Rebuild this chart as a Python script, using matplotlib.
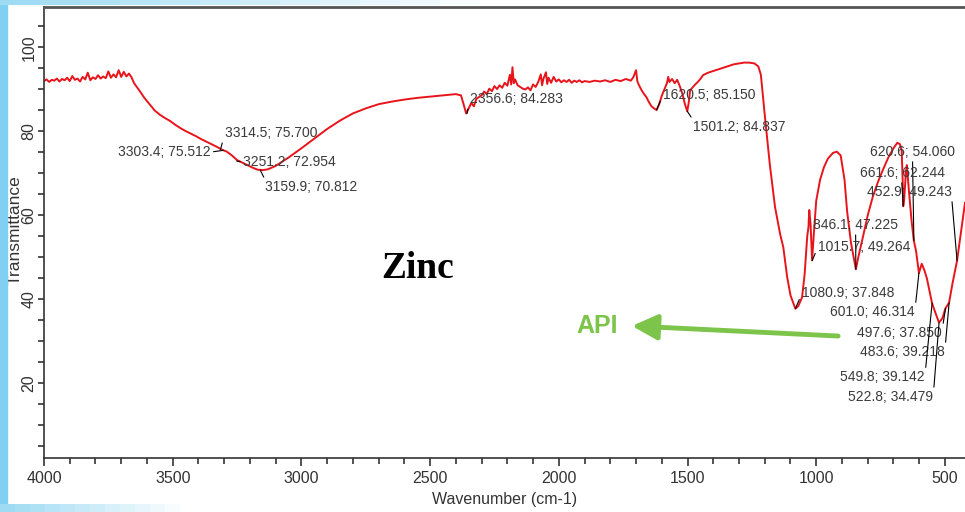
import matplotlib
matplotlib.use('Agg')
import matplotlib.pyplot as plt
from matplotlib.patches import Rectangle
from matplotlib.ticker import MultipleLocator

plt.rcParams['font.family'] = ['Liberation Sans', 'DejaVu Sans']

# FTIR spectrum
wavenumber = [
    4000, 3990, 3980, 3970, 3960, 3950, 3940, 3930, 3920, 3910, 3900, 3890, 3880, 3870,
    3860, 3850, 3840, 3830, 3820, 3810, 3800, 3790, 3780, 3770, 3760, 3750, 3740, 3730,
    3720, 3710, 3700, 3690, 3680, 3670, 3660,
    3650, 3630, 3610, 3590, 3570, 3550, 3530, 3510, 3490, 3470, 3450, 3430, 3410, 3390,
    3370, 3350, 3330, 3310, 3290, 3270, 3250, 3230, 3210, 3190, 3170, 3150, 3130,
    3100, 3050, 3000, 2950, 2900, 2850, 2800, 2750, 2700, 2650, 2600, 2550, 2500, 2450,
    2400, 2380, 2370, 2360, 2350, 2340, 2330, 2320,
    2300, 2290, 2280, 2270, 2260, 2250, 2240, 2230, 2220, 2210, 2200, 2190, 2185, 2180,
    2175, 2170, 2160, 2150, 2140, 2130, 2120, 2110, 2100, 2090, 2080, 2070, 2065, 2060,
    2050, 2045, 2040, 2030, 2020, 2010, 2000, 1990, 1980, 1970, 1960, 1950, 1940, 1930,
    1920, 1910, 1900, 1880, 1860, 1840, 1820, 1800, 1780, 1760, 1740, 1720, 1710, 1700,
    1695, 1690, 1680, 1670, 1660, 1650, 1640, 1630, 1620, 1610, 1600, 1590, 1580, 1575,
    1570, 1560, 1550, 1540, 1530, 1520, 1510, 1501, 1495, 1490, 1480, 1470, 1460, 1450,
    1440, 1420, 1400, 1380, 1360, 1340, 1320, 1300, 1280, 1260, 1240, 1225, 1215, 1200,
    1180, 1160, 1140, 1128, 1113, 1100, 1081, 1070, 1055, 1045, 1035, 1030, 1027, 1022,
    1016, 1010, 1000, 985, 970, 955, 935, 920, 905, 890, 880, 865, 846, 835, 820, 800,
    780, 760, 740, 720, 700, 685, 675, 668, 664, 662, 658, 652, 648, 640, 630, 621,
    612, 601, 590, 580, 570, 560, 550, 535, 523, 510, 498, 484, 470, 453, 440, 422,
]
transmittance = [
    92.0, 92.4, 91.8, 92.3, 92.1, 92.6, 91.9, 92.5, 92.2, 92.8, 92.0, 93.2, 92.3, 92.6,
    91.9, 93.0, 92.4, 94.0, 92.2, 92.9, 92.5, 93.4, 92.6, 93.1, 92.7, 94.3, 92.8, 93.6,
    92.9, 94.6, 93.0, 94.2, 93.1, 93.8, 92.9,
    91.5, 89.8, 88.0, 86.5, 85.0, 84.0, 83.2, 82.5, 81.6, 80.8, 80.1, 79.5, 78.9, 78.2,
    77.6, 77.0, 76.4, 75.7, 75.2, 74.3, 73.2, 72.6, 72.0, 71.4, 70.9, 70.8, 71.0,
    71.8, 73.8, 76.0, 78.3, 80.6, 82.6, 84.3, 85.5, 86.5, 87.1, 87.6, 88.0, 88.3, 88.6,
    88.9, 88.6, 86.5, 84.3, 85.5, 86.8, 86.0, 87.8,
    88.6, 89.5, 88.9, 90.2, 89.6, 90.8, 90.1, 91.0, 90.4, 91.6, 90.9, 93.5, 91.2, 95.3,
    91.5, 92.4, 91.0, 90.6, 90.2, 90.0, 90.5, 89.8, 91.2, 90.6, 91.8, 93.6, 91.0, 92.5,
    94.1, 91.3, 92.8, 91.6, 93.0, 91.9, 92.4, 91.7, 92.2, 91.8, 92.3, 91.6, 92.1, 91.8,
    92.2, 91.7, 92.0, 91.8, 92.1, 91.9, 92.2, 91.8, 92.3, 92.0, 92.5, 92.1, 93.0, 94.6,
    92.0, 91.2, 90.0, 89.0, 88.2, 87.0, 86.0, 85.5, 85.1, 86.5, 88.5, 90.0, 91.5, 93.0,
    91.8, 92.5, 91.5, 92.3, 90.8, 89.0, 86.5, 84.8, 87.0, 89.8, 90.5, 91.2, 91.8, 92.5,
    93.4, 94.0, 94.4, 94.8, 95.2, 95.6, 96.0, 96.2, 96.4, 96.4, 96.2, 95.5, 93.5, 84.0,
    72.0, 62.0, 55.5, 52.5, 45.4, 41.0, 37.8, 38.4, 40.5, 46.0, 55.0, 57.3, 61.3, 58.0,
    49.3, 55.0, 63.5, 68.5, 71.5, 73.5, 74.9, 75.2, 74.3, 68.5, 61.0, 53.5, 47.2, 50.5,
    54.5, 60.0,
    64.5, 68.0, 71.0, 73.8, 76.0, 77.3, 77.0, 75.5, 68.0, 62.2, 64.0, 70.0, 72.0, 66.0,
    59.0, 54.1,
    51.5, 46.3, 48.5, 47.0, 45.0, 42.0, 39.1, 36.5, 34.5, 35.5, 37.9, 39.2, 44.0, 49.2,
    55.0, 63.0,
]

# picked peaks: wavenumber, transmittance
peak_wn = [3303.4, 3314.5, 3251.2, 3159.9, 2356.6, 1620.5, 1501.2, 620.6, 661.6,
           452.9, 846.1, 1015.7, 1080.9, 601.0, 497.6, 483.6, 549.8, 522.8]
peak_t = [75.512, 75.700, 72.954, 70.812, 84.283, 85.150, 84.837, 54.060, 62.244,
          49.243, 47.225, 49.264, 37.848, 46.314, 37.850, 39.218, 39.142, 34.479]

# where the peak labels sit (left edge, middle) and where the leader leaves the text
label_pos = [(3712, 75.1), (3297, 79.6), (3227, 72.7), (3141, 66.8), (2345, 87.7),
             (1595, 88.7), (1479, 81.1), (791, 75.1), (830, 70.1), (803, 65.6),
             (1012, 57.7), (993, 52.5), (1055, 41.5), (946, 37.0), (842, 32.0),
             (830, 27.5), (907, 21.5), (876, 16.8)]
leader_rel = [(1, 0.5), (0, 0.5), (0, 0.5), (0, 1), (0, 0.5),
              (0, 0.5), (0, 1), (0.5, 0), (0.49, 0), (1, 0),
              (0.5, 0), (0, 0.5), (0, 0.5), (1, 0.5), (1, 0.5),
              (1, 0.5), (1, 0.5), (1, 0.5)]

W, H = 965, 512
fig = plt.figure(figsize=(W / 100, H / 100), dpi=100)

# slide decoration round the edges
fig.patches.append(Rectangle((0, 0), 7 / W, 1, transform=fig.transFigure,
                             color='#7fd0f2', zorder=0))
for i in range(12):
    fig.patches.append(Rectangle((i * 40 / W, 1 - 5 / H), 40 / W, 5 / H,
                                 transform=fig.transFigure, color='#9fdcf4',
                                 alpha=max(0, 1 - i / 12), lw=0, zorder=0))
    fig.patches.append(Rectangle((i * 15 / W, 0), 15 / W, 8 / H,
                                 transform=fig.transFigure, color='#9fdcf4',
                                 alpha=max(0, 1 - i / 12), lw=0, zorder=0))

ax = fig.add_axes([44 / W, 1 - 458 / H, 1 - 44 / W, 451 / H])
ax.plot(wavenumber, transmittance, color='#e8141b', lw=1.4)

ax.set_xlim(4000, 422)
ax.set_ylim(2.26, 109.64)
ax.xaxis.set_major_locator(MultipleLocator(500))
ax.xaxis.set_minor_locator(MultipleLocator(100))
ax.yaxis.set_major_locator(MultipleLocator(20))
ax.yaxis.set_minor_locator(MultipleLocator(5))
ax.tick_params(which='both', direction='out', colors='#333333', labelsize=11.5,
               width=1.2)
ax.tick_params(axis='x', which='major', length=6)
ax.tick_params(axis='x', which='minor', length=4)
ax.tick_params(axis='y', which='both', length=4, pad=1.5, labelrotation=90)
plt.setp(ax.get_yticklabels(), va='center')
ax.spines['right'].set_visible(False)
ax.spines['top'].set_linewidth(2)
ax.spines['top'].set_color('#555555')
for s in ['left', 'bottom']:
    ax.spines[s].set_color('#333333')
    ax.spines[s].set_linewidth(1.2)

ax.set_xlabel('Wavenumber (cm-1)', fontsize=11.5, color='#333333', labelpad=4)
ax.set_ylabel('Transmittance', fontsize=12.5, color='#333333')
ax.yaxis.set_label_coords(-0.0235, 0.505)

for w, t, (lx, ly), rel in zip(peak_wn, peak_t, label_pos, leader_rel):
    ax.annotate(f'{w:.1f}; {t:.3f}', xy=(w, t), xytext=(lx, ly),
                ha='left', va='center', fontsize=10, color='#3a3a3a',
                arrowprops=dict(arrowstyle='-', color='black', lw=0.8,
                                relpos=rel, shrinkA=0, shrinkB=0))

fig.text(418 / W, 1 - 268 / H, 'Zinc', family='Liberation Serif', weight='bold',
         fontsize=27, ha='center', va='center')
fig.text(597 / W, 1 - 326 / H, 'API', family='Liberation Sans', weight='bold',
         fontsize=18, color='#7dc44a', ha='center', va='center')
ax.annotate('', xy=(1716, 33.7), xytext=(915, 31.3),
            arrowprops=dict(arrowstyle='-|>,head_length=1.1,head_width=0.55',
                            color='#7dc44a', lw=3.5, mutation_scale=14,
                            shrinkA=0, shrinkB=0))

fig.savefig('out.png', dpi=100)
